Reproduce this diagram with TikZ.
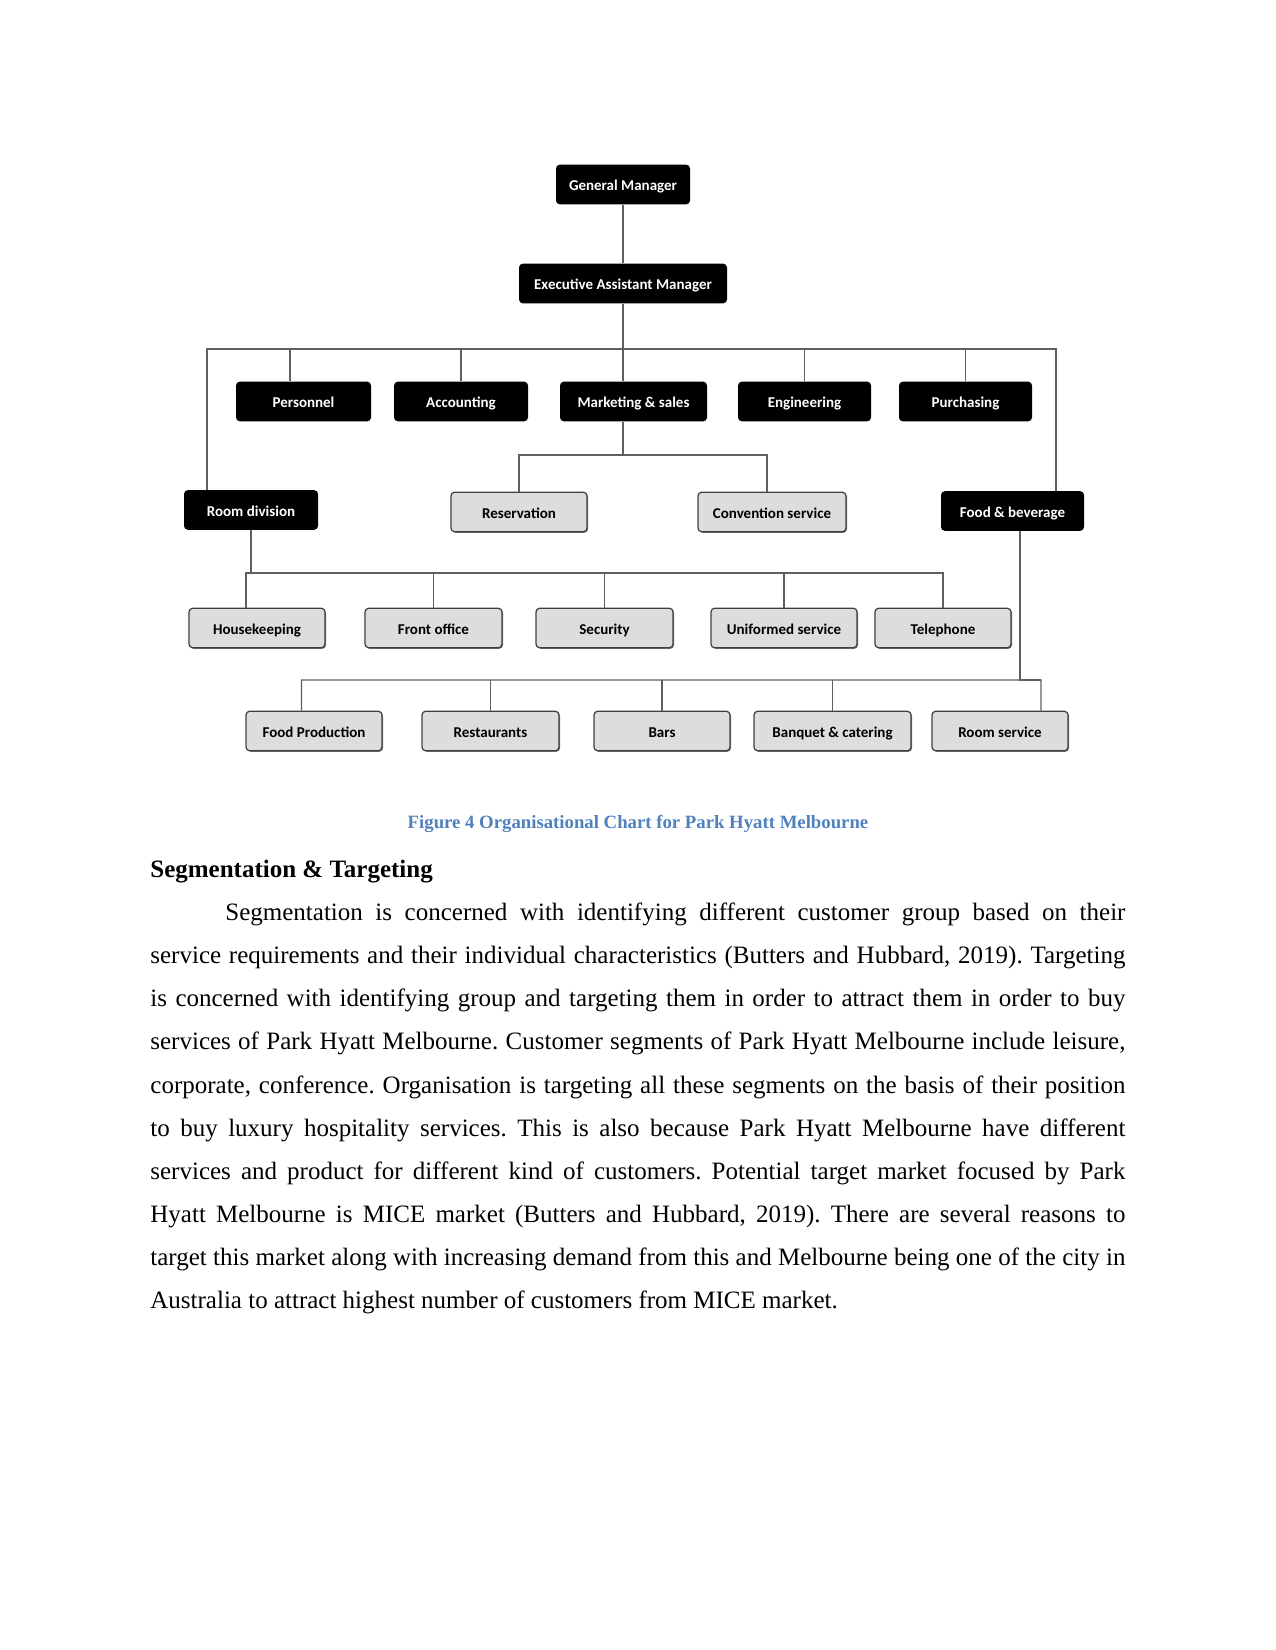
\documentclass[tikz,border=0pt]{standalone}
\usepackage{fontspec}
\setmainfont{Liberation Serif}
\newfontfamily\boxfont{Carlito}
\usepackage{tikz}
\usetikzlibrary{positioning, shadows}
\definecolor{capblue}{RGB}{79,129,189}
\definecolor{subgray}{RGB}{221,221,221}
\definecolor{linegray}{RGB}{95,95,95}
\frenchspacing

\begin{document}
\begin{tikzpicture}[x=0.48pt, y=-0.48pt,
  headbox/.style={rectangle, rounded corners=1.8pt, fill=black, text=white,
                  minimum height=19pt, inner sep=1pt, text height=1.6ex, text depth=0.3ex,
                  font=\boxfont\bfseries\fontsize{7.2}{8}\selectfont},
  subbox/.style={headbox, fill=subgray, draw=black!75, line width=0.6pt, text=black,
                 drop shadow={shadow xshift=0.5pt, shadow yshift=-0.5pt,
                              fill=black!55, opacity=1}},
  wd/.style={minimum width=#1*0.48pt},
  link/.style={draw=linegray, line width=0.55pt}]
  \useasboundingbox (0,0) rectangle (1275,1650);

  % top of the chart
  \node[headbox, wd=134] (gm)  at (623,184.5) {General Manager};
  \node[headbox, wd=208] (eam) at (623,283.5) {Executive Assistant Manager};
  \foreach \nm/\cx/\w/\txt in {pers/303.5/135/Personnel, acc/461/134/Accounting,
      mkt/633.5/147/Marketing \& sales, eng/804.5/133/Engineering,
      pur/965.5/133/Purchasing}
    \node[headbox, wd=\w] (\nm) at (\cx,401.5) {\txt};

  \node[headbox, wd=134] (rd)   at (251,510)    {Room division};
  \node[subbox, wd=136]  (res)  at (519,512)    {Reservation};
  \node[subbox, wd=148]  (conv) at (772,512)    {Convention service};
  \node[headbox, wd=143] (fb)   at (1012.5,511) {Food \& beverage};

  \foreach \nm/\cx/\w/\txt in {hk/257/136/Housekeeping, fo/433.5/137/Front office,
      sec/604.5/137/Security, uni/784/146/Uniformed service, tel/943/136/Telephone}
    \node[subbox, wd=\w] (\nm) at (\cx,628) {\txt};

  \foreach \nm/\cx/\w/\txt in {fp/314/136/Food Production, rest/490.5/137/Restaurants,
      bars/662/136/Bars, banq/832.5/157/Banquet \& catering, rs/1000/136/Room service}
    \node[subbox, wd=\w] (\nm) at (\cx,731) {\txt};

  % connectors
  \coordinate (busL) at (207,349);
  \coordinate (busR) at (1056,349);
  \coordinate (mktbus) at (767,455);
  \coordinate (rdbus) at (943,573);
  \coordinate (fbbus) at (1041,680);

  \draw[link] (gm) -- (eam);
  \draw[link] (eam.south) -- (eam.south |- mkt.north);
  \draw[link] (busL |- rd.north) -- (busL) -- (busR) -- (busR |- fb.north);
  \draw[link] ([xshift=-6.5pt]pers.north) |- (busL);
  \foreach \nm in {acc, eng, pur}
    \draw[link] (\nm.north) -- (\nm.north |- busL);

  \draw[link] (eam.south |- mkt.south) -- (eam.south |- mktbus);
  \draw[link] (res.north) |- (mktbus) -- (mktbus |- conv.north);

  \draw[link] (rd.south) |- (rdbus);
  \draw[link] ([xshift=-5.3pt]hk.north) |- (rdbus) -- (tel.north);
  \foreach \nm in {fo, sec, uni}
    \draw[link] (\nm.north) -- (\nm.north |- rdbus);

  \draw[link] ([xshift=3.6pt]fb.south) |- (fbbus);
  \draw[link] ([xshift=-6pt]fp.north) |- (fbbus) -- ([xshift=19.7pt]rs.north);
  \foreach \nm in {rest, bars, banq}
    \draw[link] (\nm.north) -- (\nm.north |- fbbus);

  % caption and text
  \node[font=\bfseries\fontsize{9}{11}\selectfont, text=capblue, anchor=base]
    (cap) at (638,828) {Figure 4 Organisational Chart for Park Hyatt Melbourne};
  \node[font=\bfseries\fontsize{12}{14}\selectfont, anchor=base west, inner sep=0]
    (head) at (150,877) {Segmentation \& Targeting};
  \node[anchor=north west, inner sep=0, text width=468pt, align=justify,
        font=\fontsize{12}{20.7}\selectfont] (body) at (150,890) {%
    \strut\hspace*{36pt}Segmentation is concerned with identifying different customer group based on their\linebreak
    service requirements and their individual characteristics (Butters and Hubbard, 2019). Targeting\linebreak
    is concerned with identifying group and targeting them in order to attract them in order to buy\linebreak
    services of Park Hyatt Melbourne. Customer segments of Park Hyatt Melbourne include leisure,\linebreak
    corporate, conference. Organisation is targeting all these segments on the basis of their position\linebreak
    to buy luxury hospitality services. This is also because Park Hyatt Melbourne have different\linebreak
    services and product for different kind of customers. Potential target market focused by Park\linebreak
    Hyatt Melbourne is MICE market (Butters and Hubbard, 2019). There are several reasons to\linebreak
    target this market along with increasing demand from this and Melbourne being one of the city in\linebreak
    Australia to attract highest number of customers from MICE market.};
\end{tikzpicture}
\end{document}
